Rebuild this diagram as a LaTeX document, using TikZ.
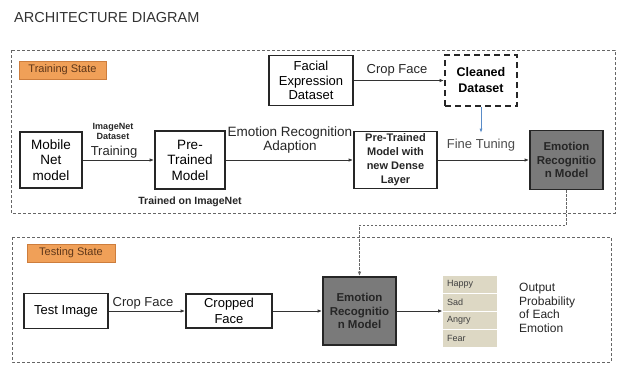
\documentclass[tikz,border=0pt]{standalone}
\usepackage{fontspec}
\setmainfont{Liberation Sans}
\usepackage{xcolor}
\definecolor{tagorange}{RGB}{240,160,88}
\definecolor{tagedge}{RGB}{205,125,60}
\definecolor{tagtext}{RGB}{95,55,25}
\definecolor{modelgray}{RGB}{122,122,122}
\definecolor{beige}{RGB}{221,216,196}
\definecolor{tuneblue}{RGB}{90,140,200}
\usepackage{tikz}
\usetikzlibrary{arrows.meta, positioning, fit}

\begin{document}
\begin{tikzpicture}[x=1pt, y=-1pt,
    box/.style={rectangle, draw=black!85, line width=1.8pt, fill=white,
                font=\fontsize{13}{15}\selectfont, align=center, inner sep=0pt},
    gbox/.style={box, fill=modelgray, text=black!85,
                 font=\bfseries\fontsize{11.5}{13.5}\selectfont},
    dbox/.style={box, line width=2pt, dash pattern=on 6pt off 4pt,
                 font=\bfseries\fontsize{12.5}{16}\selectfont},
    tag/.style={rectangle, draw=tagedge, line width=0.8pt, fill=tagorange,
                text=tagtext, font=\fontsize{11}{13}\selectfont,
                minimum height=18pt, inner sep=0pt},
    entry/.style={rectangle, fill=beige, minimum width=54pt, minimum height=17pt,
                  text width=46pt, align=left, inner xsep=4pt, inner ysep=0pt,
                  font=\fontsize{9}{10}\selectfont, text=black!75},
    frame/.style={draw=black!60, line width=0.8pt, dash pattern=on 3pt off 2pt},
    lbl/.style={font=\fontsize{13}{15}\selectfont, text=black!85, inner sep=1pt, align=center},
    slbl/.style={font=\bfseries\fontsize{9}{10}\selectfont, text=black!85, inner sep=0pt, align=center},
    arr/.style={-{Latex[length=4.5pt,width=3.5pt]}, black!80, line width=0.9pt},
    darr/.style={arr, black!60, dash pattern=on 2.5pt off 1.5pt},
    barr/.style={-{Latex[length=4pt,width=3pt]}, tuneblue, line width=0.6pt}
  ]
  \useasboundingbox (0,0) rectangle (619,365);

  \node[anchor=west, font=\fontsize{14.5}{16}\selectfont, text=black!80, inner sep=0pt]
    (title) at (14,18) {ARCHITECTURE DIAGRAM};

  % training state
  \draw[frame] (11,50) rectangle (615,213);
  \node[tag, minimum width=87pt] (trainTag) at (62.5,70) {Training State};

  \node[box, minimum width=62pt, minimum height=56pt,
        font=\fontsize{13.5}{15.5}\selectfont] (mobile) at (51,160) {Mobile\\Net\\model};
  \node[box, minimum width=70pt, minimum height=58pt,
        font=\fontsize{13.5}{15.5}\selectfont] (pre) at (190,160) {Pre-\\Trained\\Model};
  \node[box, minimum width=84pt, minimum height=50pt,
        font=\fontsize{13}{14.5}\selectfont] (facial) at (311,80.5) {Facial\\Expression\\Dataset};
  \node[dbox, minimum width=72pt, minimum height=51pt] (cleaned) at (481,80.5) {Cleaned\\Dataset};
  \node[box, minimum width=83pt, minimum height=57pt,
        font=\bfseries\fontsize{11}{14}\selectfont, text=black!85]
        (dense) at (395.5,160) {Pre-Trained\\Model with\\new Dense\\Layer};
  \node[gbox, minimum width=73pt, minimum height=59pt] (ermTrain) at (566.5,160)
        {Emotion\\Recognitio\\n Model};

  \node[slbl] (imgnet) at (113,131) {ImageNet\\Dataset};
  \node[lbl] (training) at (114,152) {Training};
  \node[lbl, font=\bfseries\fontsize{10.5}{12}\selectfont] (trainedOn) at (190,202) {Trained on ImageNet};
  \node[lbl, font=\fontsize{13.5}{14.5}\selectfont] (adapt) at (290,140) {Emotion Recognition\\Adaption};
  \node[lbl] (cropTop) at (397,70.5) {Crop Face};
  \node[lbl, text=black!70] (fine) at (481,145) {Fine Tuning};

  \draw[arr] (mobile) -- (pre);
  \draw[arr] (pre) -- (dense);
  \draw[arr] (facial) -- (cleaned);
  \draw[arr] (dense) -- (ermTrain);
  \draw[barr, shorten >=5pt] (cleaned.south) -- (fine.north);

  % testing state
  \draw[frame] (12,237) rectangle (611,362);
  \node[tag, minimum width=88pt] (testTag) at (71,253) {Testing State};

  \node[box, minimum width=84pt, minimum height=35pt] (testImg) at (66,311) {Test Image};
  \node[box, minimum width=86pt, minimum height=34pt,
        font=\fontsize{13}{16}\selectfont] (cropped) at (229,311) {Cropped\\Face};
  \node[gbox, minimum width=73pt, minimum height=68pt] (ermTest) at (359.5,311)
        {Emotion\\Recognitio\\n Model};

  \node[entry] (happy) at (470,284) {Happy};
  \node[entry] (sad)   at (470,302) {Sad};
  \node[entry] (angry) at (470,320) {Angry};
  \node[entry] (fear)  at (470,338) {Fear};
  \node[fit=(happy)(fear), inner sep=0pt] (emo) {};

  \node[anchor=west, align=left, font=\fontsize{12}{13.5}\selectfont, text=black!85, inner sep=0pt]
    (output) at (519,308) {Output\\Probability\\of Each\\Emotion};

  \node[lbl] (cropTest) at (143,303) {Crop Face};

  \draw[arr] (testImg) -- (cropped);
  \draw[arr] (cropped) -- (ermTest);
  \draw[arr] (ermTest) -- (emo);

  % trained model handed over
  \coordinate (bend) at (0,225);
  \draw[darr] (ermTrain.south) -- (ermTrain.south |- bend) -| (ermTest.north);

\end{tikzpicture}
\end{document}
